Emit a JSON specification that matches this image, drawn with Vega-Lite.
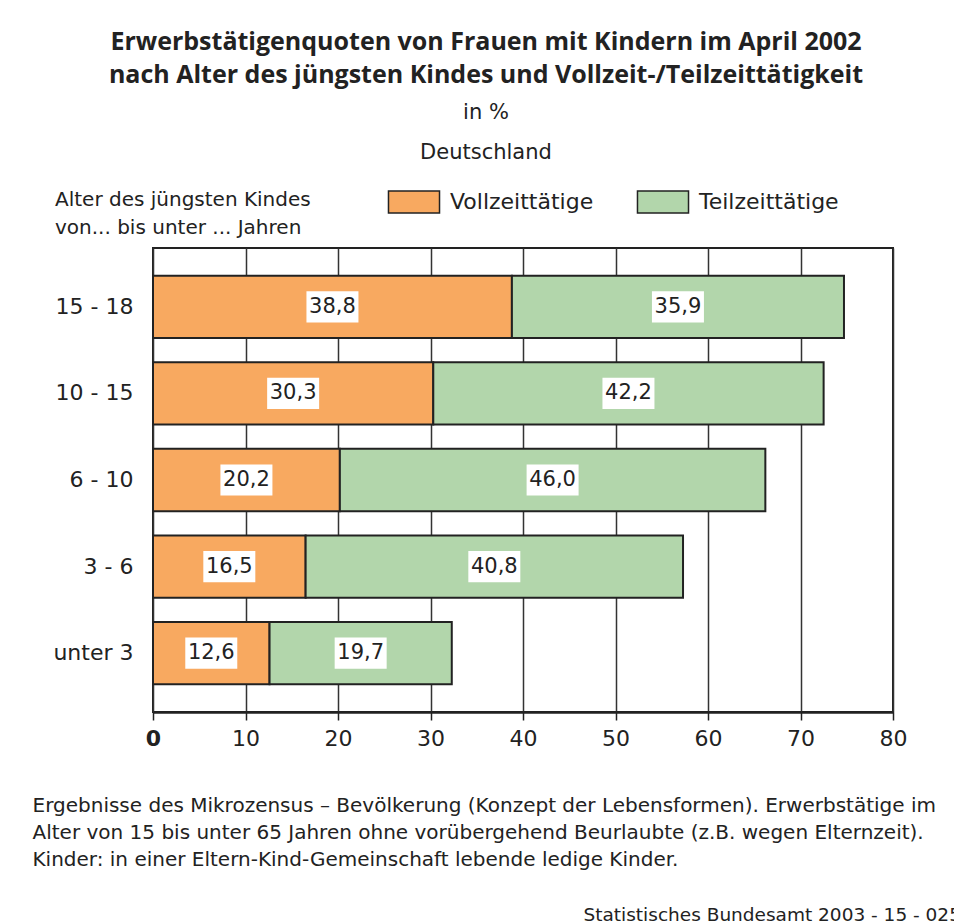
{
  "$schema": "https://vega.github.io/schema/vega-lite/v6.json",
  "width": 740,
  "height": 464,
  "autosize": {"type": "none"},
  "padding": {"left": 153, "top": 248, "right": 61, "bottom": 209},
  "background": "white",
  "config": {
    "font": "DejaVu Sans",
    "locale": {"number": {"decimal": ",", "thousands": ".", "grouping": [3], "currency": ["", " €"]}},
    "view": {"stroke": "#222", "strokeWidth": 2}
  },
  "title": {
    "text": ["Erwerbstätigenquoten von Frauen mit Kindern im April 2002", "nach Alter des jüngsten Kindes und Vollzeit-/Teilzeittätigkeit"],
    "subtitle": ["in %", "Deutschland"],
    "font": "Open Sans",
    "fontSize": 25,
    "fontWeight": "bold",
    "color": "#222",
    "lineHeight": 33,
    "subtitleFont": "DejaVu Sans",
    "subtitleFontSize": 21,
    "subtitleLineHeight": 40,
    "subtitleColor": "#222",
    "subtitlePadding": 14,
    "anchor": "middle",
    "frame": "group",
    "dx": -37,
    "offset": 27
  },
  "data": {
    "values": [
      {"alter": "15 - 18", "typ": "Vollzeittätige", "wert": 38.8},
      {"alter": "15 - 18", "typ": "Teilzeittätige", "wert": 35.9},
      {"alter": "10 - 15", "typ": "Vollzeittätige", "wert": 30.3},
      {"alter": "10 - 15", "typ": "Teilzeittätige", "wert": 42.2},
      {"alter": "6 - 10", "typ": "Vollzeittätige", "wert": 20.2},
      {"alter": "6 - 10", "typ": "Teilzeittätige", "wert": 46.0},
      {"alter": "3 - 6", "typ": "Vollzeittätige", "wert": 16.5},
      {"alter": "3 - 6", "typ": "Teilzeittätige", "wert": 40.8},
      {"alter": "unter 3", "typ": "Vollzeittätige", "wert": 12.6},
      {"alter": "unter 3", "typ": "Teilzeittätige", "wert": 19.7}
    ]
  },
  "encoding": {
    "y": {
      "field": "alter",
      "type": "nominal",
      "sort": ["15 - 18", "10 - 15", "6 - 10", "3 - 6", "unter 3"],
      "scale": {"paddingInner": 0.28, "paddingOuter": 0.32},
      "axis": {
        "title": "Statistisches Bundesamt 2003 - 15 - 0252",
        "titleAngle": 0,
        "titleX": 430,
        "titleY": 672,
        "titleAlign": "left",
        "titleBaseline": "alphabetic",
        "titleFontSize": 18.5,
        "titleFontWeight": "normal",
        "titleColor": "#222",
        "domain": false,
        "ticks": false,
        "grid": false,
        "labelFontSize": 22,
        "labelPadding": 20,
        "labelColor": "#222"
      }
    },
    "order": {"field": "typ", "sort": "descending"}
  },
  "layer": [
    {
      "mark": {"type": "bar", "stroke": "#222", "strokeWidth": 2},
      "encoding": {
        "x": {
          "field": "wert",
          "type": "quantitative",
          "stack": "zero",
          "scale": {"domain": [0, 80], "nice": false},
          "axis": {
            "values": [0, 10, 20, 30, 40, 50, 60, 70, 80],
            "grid": true,
            "gridColor": "#333",
            "gridWidth": 1.5,
            "gridOpacity": 1,
            "domainColor": "#222",
            "domainWidth": 2.5,
            "tickColor": "#222",
            "tickWidth": 1.5,
            "tickSize": 8,
            "labelFontSize": 22,
            "labelPadding": 8,
            "labelColor": "#222",
            "labelFlush": false,
            "labelFontWeight": {"condition": {"test": "datum.value === 0", "value": "bold"}, "value": "normal"},
            "title": [
              "Ergebnisse des Mikrozensus – Bevölkerung (Konzept der Lebensformen). Erwerbstätige im",
              "Alter von 15 bis unter 65 Jahren ohne vorübergehend Beurlaubte (z.B. wegen Elternzeit).",
              "Kinder: in einer Eltern-Kind-Gemeinschaft lebende ledige Kinder."
            ],
            "titleX": -121,
            "titleY": 83,
            "titleAlign": "left",
            "titleAnchor": "start",
            "titleBaseline": "top",
            "titleFontSize": 20,
            "titleFontWeight": "normal",
            "titleLineHeight": 27,
            "titleColor": "#222"
          }
        },
        "color": {
          "field": "typ",
          "type": "nominal",
          "scale": {"domain": ["Vollzeittätige", "Teilzeittätige"], "range": ["#F8A960", "#B2D6AB"]},
          "legend": {
            "orient": "none",
            "legendX": -98,
            "legendY": -58,
            "direction": "horizontal",
            "padding": 0,
            "title": ["Alter des jüngsten Kindes", "von... bis unter ... Jahren"],
            "titleOrient": "left",
            "titleAnchor": "start",
            "titlePadding": 91,
            "titleFontSize": 20,
            "titleFontWeight": "normal",
            "titleLineHeight": 28,
            "titleColor": "#222",
            "titleLimit": 400,
            "symbolType": "M-2.32,-1H2.32V1H-2.32Z",
            "symbolSize": 484,
            "symbolStrokeColor": "#222",
            "symbolStrokeWidth": 1.5,
            "symbolOpacity": 1,
            "labelFontSize": 22,
            "labelOffset": 24,
            "labelColor": "#222",
            "labelLimit": 300,
            "columnPadding": 40
          }
        }
      }
    },
    {
      "mark": {"type": "point", "shape": "M-1,-0.6H1V0.6H-1Z", "size": 2704, "filled": true, "fill": "white", "opacity": 1, "strokeWidth": 0},
      "encoding": {
        "x": {"field": "wert", "type": "quantitative", "stack": "zero", "bandPosition": 0.5},
        "detail": {"field": "typ"}
      }
    },
    {
      "mark": {"type": "text", "fontSize": 21, "color": "#222", "baseline": "middle"},
      "encoding": {
        "x": {"field": "wert", "type": "quantitative", "stack": "zero", "bandPosition": 0.5},
        "detail": {"field": "typ"},
        "text": {"field": "wert", "type": "quantitative", "format": ".1f"}
      }
    }
  ]
}
